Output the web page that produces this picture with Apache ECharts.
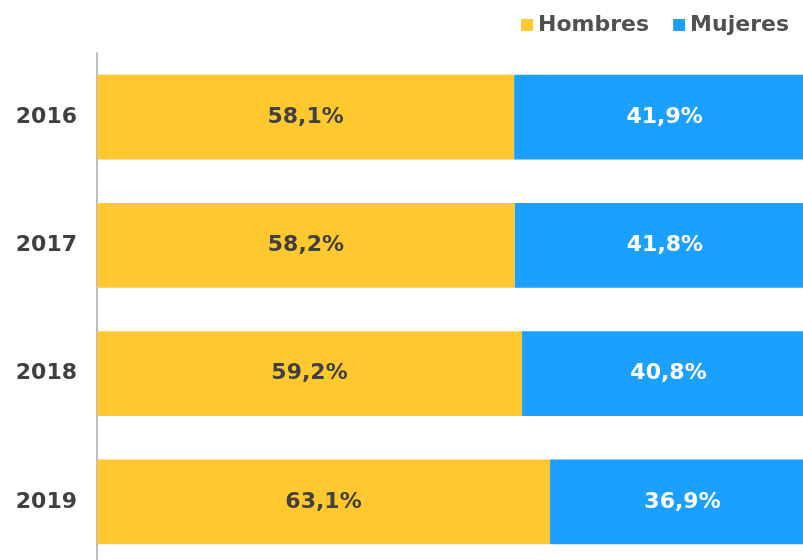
<!DOCTYPE html>
<html>
<head>
<meta charset="utf-8">
<script src="https://cdn.jsdelivr.net/npm/echarts@6/dist/echarts.min.js"></script>
<style>
  html, body { margin: 0; padding: 0; background: #fff; }
  #chart { width: 803px; height: 560px; }
</style>
</head>
<body>
<div id="chart"></div>
<script>
  // datos
  const years = ["2016", "2017", "2018", "2019"];
  const hombres = [58.1, 58.2, 59.2, 63.1];
  const mujeres = [41.9, 41.8, 40.8, 36.9];

  const fmt = function (p) {
    return p.value.toFixed(1).replace(".", ",") + "%";
  };

  const chart = echarts.init(document.getElementById("chart"));
  chart.setOption({
    animation: false,
    textStyle: { fontFamily: "DejaVu Sans, sans-serif" },
    legend: {
      right: 9,
      top: 9,
      itemWidth: 12,
      itemHeight: 12,
      itemGap: 24,
      icon: "rect",
      textStyle: { fontSize: 22, fontWeight: "bold", color: "#505050" },
      data: ["Hombres", "Mujeres"]
    },
    grid: { left: 97, top: 53, width: 718, height: 513, outerBoundsMode: "none", containLabel: false },
    xAxis: {
      type: "value",
      min: 0,
      max: 100,
      show: false
    },
    yAxis: {
      type: "category",
      inverse: true,
      data: years,
      axisLine: { show: true, lineStyle: { color: "#a6a6a6", width: 1.5 } },
      axisTick: { show: false },
      axisLabel: { fontSize: 22, fontWeight: "bold", color: "#404040", margin: 20 }
    },
    series: [
      {
        name: "Hombres",
        type: "bar",
        stack: "total",
        barWidth: "66%",
        itemStyle: { color: "#ffc82e" },
        label: { show: true, position: "inside", formatter: fmt, fontSize: 22, fontWeight: "bold", color: "#404040" },
        data: hombres
      },
      {
        name: "Mujeres",
        type: "bar",
        stack: "total",
        itemStyle: { color: "#1ba0ff" },
        label: { show: true, position: "inside", formatter: fmt, fontSize: 22, fontWeight: "bold", color: "#ffffff" },
        data: mujeres
      }
    ]
  });
</script>
</body>
</html>
